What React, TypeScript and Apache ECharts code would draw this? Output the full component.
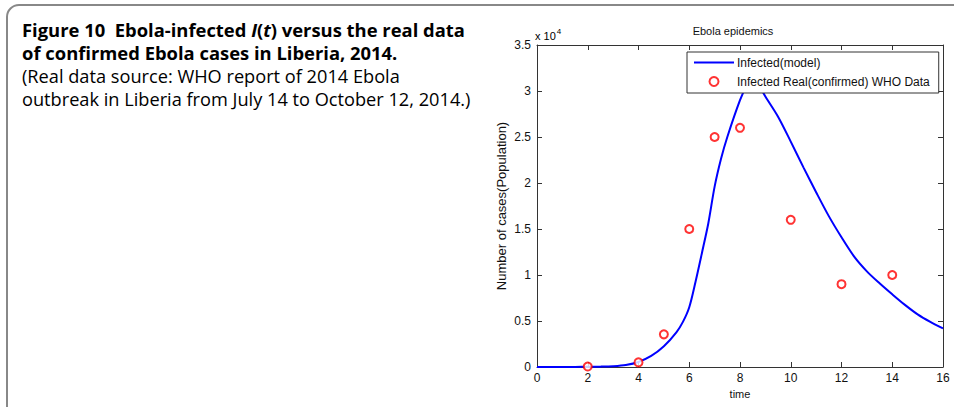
import React, { useEffect, useRef } from "react";
import * as echarts from "echarts";

// Model output I(t), sampled along time
const modelTime = [0, 0.5, 1, 1.5, 2, 2.5, 3, 3.5, 4, 4.5, 5, 5.5, 5.75, 6, 6.25, 6.5, 6.75, 7, 7.25, 7.5, 8, 8.25, 8.5, 8.75, 9, 9.5, 10, 10.5, 11, 11.5, 12, 12.5, 13, 13.5, 14, 14.5, 15, 15.5, 16];
const modelInfected = [0, 0, 0, 10, 20, 40, 90, 220, 550, 1200, 2250, 3800, 4900, 6500, 9300, 12400, 15600, 19600, 22600, 25000, 29000, 30500, 31300, 30600, 29400, 27200, 24500, 21700, 19000, 16400, 14100, 12000, 10400, 9100, 7900, 6750, 5720, 4900, 4200];

// Confirmed cases reported by WHO
const realTime = [2, 4, 5, 6, 7, 8, 10, 12, 14];
const realConfirmed = [50, 500, 3550, 15000, 25000, 26000, 16000, 9000, 10000];

const xTicks = { min: 0, max: 16, interval: 2 };
const yTicks = { min: 0, max: 35000, interval: 5000 };

const captionLines = [
  "{b|Figure 10  Ebola-infected }{bi|I}{b|(}{bi|t}{b|) versus the real data}",
  "{b|of confirmed Ebola cases in Liberia, 2014.}",
  "{r|(Real data source: WHO report of 2014 Ebola}",
  "{r|outbreak in Liberia from July 14 to October 12, 2014.)}",
];

const AXIS_FONT = "'Liberation Sans', Arial, sans-serif";
const CAPTION_FONT = "'Open Sans', 'Noto Sans', sans-serif";

export default function App() {
  const ref = useRef<HTMLDivElement>(null);

  useEffect(() => {
    if (!ref.current) return;
    const chart = echarts.init(ref.current, undefined, { renderer: "svg" });

    const axisLine = { show: true, onZero: false, lineStyle: { color: "#333", width: 1 } };
    const tickInside = { show: true, inside: true, length: 5, lineStyle: { color: "#333", width: 1 } };
    const tickLabel = { color: "#111", fontFamily: AXIS_FONT, fontSize: 12 };

    const captionRich = {
      b: { fontFamily: CAPTION_FONT, fontWeight: 700, fontSize: 18.4, color: "#111" },
      bi: { fontFamily: CAPTION_FONT, fontWeight: 700, fontStyle: "italic", fontSize: 18.4, color: "#111" },
      r: { fontFamily: CAPTION_FONT, fontWeight: 400, fontSize: 18.2, color: "#222" },
    };

    chart.setOption({
      animation: false,
      backgroundColor: "#fff",
      title: {
        text: "Ebola epidemics",
        left: 733,
        top: 25,
        textAlign: "center",
        padding: 0,
        textStyle: { fontFamily: AXIS_FONT, fontSize: 11, fontWeight: "normal", color: "#111" },
      },
      legend: {
        orient: "vertical",
        left: 687,
        top: 52,
        padding: [3, 9, 4, 6],
        itemGap: 4,
        itemWidth: 40,
        itemHeight: 9,
        backgroundColor: "#fff",
        borderColor: "#333",
        borderWidth: 1,
        borderRadius: 0,
        textStyle: { fontFamily: AXIS_FONT, fontSize: 12, color: "#111", padding: [0, 0, 0, -2], lineHeight: 15 },
        data: [
          { name: "Infected(model)", itemStyle: { opacity: 0 }, lineStyle: { opacity: 1 } },
          { name: "Infected Real(confirmed) WHO Data", icon: "emptyCircle" },
        ],
        z: 10,
      },
      grid: { left: 537, right: 11, top: 45, bottom: 40, containLabel: false },
      xAxis: [
        {
          type: "value",
          position: "bottom",
          ...xTicks,
          name: "time",
          nameLocation: "middle",
          nameGap: 15,
          nameTextStyle: { fontFamily: AXIS_FONT, fontSize: 11, color: "#111" },
          axisLine,
          axisTick: tickInside,
          axisLabel: { ...tickLabel, margin: 5 },
          splitLine: { show: false },
        },
        {
          type: "value",
          position: "top",
          ...xTicks,
          axisLine,
          axisTick: tickInside,
          axisLabel: { show: false },
          splitLine: { show: false },
        },
      ],
      yAxis: [
        {
          type: "value",
          position: "left",
          ...yTicks,
          name: "Number of cases(Population)",
          nameLocation: "middle",
          nameGap: 29,
          nameRotate: 90,
          nameTextStyle: { fontFamily: AXIS_FONT, fontSize: 13, color: "#111" },
          axisLine,
          axisTick: tickInside,
          axisLabel: {
            ...tickLabel,
            margin: 6,
            formatter: (v: number) => String(v / 10000),
          },
          splitLine: { show: false },
        },
        {
          type: "value",
          position: "right",
          ...yTicks,
          axisLine,
          axisTick: tickInside,
          axisLabel: { show: false },
          splitLine: { show: false },
        },
      ],
      series: [
        {
          name: "Infected(model)",
          type: "line",
          data: modelTime.map((t, i) => [t, modelInfected[i]]),
          smooth: 0.3,
          symbol: "none",
          lineStyle: { color: "#0000ff", width: 2 },
          itemStyle: { color: "#0000ff" },
          z: 2,
        },
        {
          name: "Infected Real(confirmed) WHO Data",
          type: "scatter",
          data: realTime.map((t, i) => [t, realConfirmed[i]]),
          symbol: "emptyCircle",
          symbolSize: 8,
          itemStyle: { color: "#ff0000", borderColor: "#ff0000", borderWidth: 1.6 },
          z: 3,
        },
      ],
      graphic: [
        {
          type: "rect",
          silent: true,
          shape: { x: 7, y: 5, width: 1000, height: 500, r: [12, 0, 0, 0] },
          style: { fill: "none", stroke: "#888", lineWidth: 2 },
        },
        ...captionLines.map((line, i) => ({
          type: "text",
          left: 22,
          top: Math.round(20 + i * 23.4),
          style: { text: line, rich: captionRich },
        })),
        {
          type: "text",
          left: 535,
          top: 27,
          style: {
            text: "{a|x 10}{s|4}",
            rich: {
              a: { fontFamily: AXIS_FONT, fontSize: 11, color: "#111", verticalAlign: "bottom" },
              s: { fontFamily: AXIS_FONT, fontSize: 8, color: "#111", verticalAlign: "top", padding: [0, 0, 6, 1] },
            },
          },
        },
      ],
    });

    return () => chart.dispose();
  }, []);

  return (
    <div
      ref={ref}
      style={{ position: "fixed", left: 0, top: 0, width: 954, height: 407, background: "#fff" }}
    />
  );
}
